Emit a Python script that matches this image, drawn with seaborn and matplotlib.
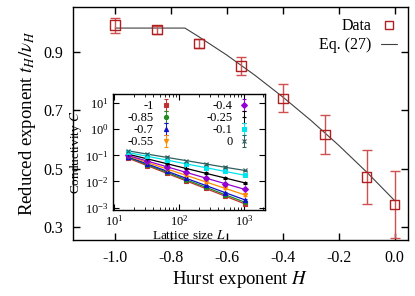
import numpy as np
import pandas as pd
import matplotlib
matplotlib.use("Agg")
import matplotlib.pyplot as plt
import seaborn as sns
from matplotlib.lines import Line2D

# ---------------- data ----------------
hurst = [-1.0, -0.85, -0.7, -0.55, -0.4, -0.25, -0.1, 0.0]
ratio = [0.993, 0.977, 0.931, 0.853, 0.742, 0.617, 0.472, 0.376]
ratio_err = [0.026, 0.013, 0.015, 0.030, 0.048, 0.068, 0.093, 0.115]

eq_h = [-1.0, -0.75, -0.7, -0.6, -0.5, -0.4, -0.3, -0.2, -0.1, 0.0]
eq_v = [0.983, 0.983, 0.953, 0.890, 0.821, 0.746, 0.666, 0.580, 0.488, 0.390]

lattice = [16, 32, 64, 128, 256, 512, 1024]
inset_labels = ["-1", "-0.85", "-0.7", "-0.55", "-0.4", "-0.25", "-0.1", "0"]
cond = {
    "-1":    [0.0794, 0.0406, 0.0207, 0.0106, 0.00541, 0.00277, 0.00141],
    "-0.85": [0.0851, 0.0440, 0.0227, 0.0117, 0.00607, 0.00314, 0.00162],
    "-0.7":  [0.0891, 0.0473, 0.0251, 0.0133, 0.00708, 0.00376, 0.00200],
    "-0.55": [0.0955, 0.0540, 0.0304, 0.0172, 0.00970, 0.00547, 0.00309],
    "-0.4":  [0.100, 0.0607, 0.0369, 0.0224, 0.0136, 0.00826, 0.00501],
    "-0.25": [0.112, 0.0736, 0.0483, 0.0316, 0.0207, 0.0136, 0.0089],
    "-0.1":  [0.129, 0.0923, 0.0661, 0.0473, 0.0339, 0.0243, 0.0174],
    "0":     [0.150, 0.112, 0.084, 0.063, 0.047, 0.035, 0.0266],
}
inset_colors = ["#c03030", "#228b22", "#1010d0", "#ff8c00", "#9400d3", "#000000", "#00e5ee", "#2f5f5f"]
inset_markers = ["s", "o", "^", "v", "D", "+", "s", "x"]

# ---------------- style ----------------
sns.set_style("ticks", {"axes.edgecolor": "black", "xtick.color": "black",
                        "ytick.color": "black", "text.color": "black",
                        "axes.labelcolor": "black"})
plt.rcParams["font.family"] = ["Liberation Serif", "DejaVu Serif"]
plt.rcParams["mathtext.fontset"] = "stix"
plt.rcParams["axes.unicode_minus"] = False

fig = plt.figure(figsize=(4.15, 2.96), dpi=100)
ax = fig.add_axes([0.176, 0.189, 0.807, 0.787])

df_eq = pd.DataFrame({"H": eq_h, "v": eq_v})
sns.lineplot(data=df_eq, x="H", y="v", ax=ax, color="#404040", lw=0.8, legend=False)

ax.errorbar(hurst, ratio, yerr=ratio_err, fmt="none", ecolor="#d05050",
            elinewidth=1.0, capsize=3.5, capthick=1.0, zorder=3)
df_d = pd.DataFrame({"H": hurst, "r": ratio})
sns.scatterplot(data=df_d, x="H", y="r", ax=ax, marker="s", s=45,
                facecolor="none", edgecolor="#b02020", linewidth=1.0, zorder=4)

ax.set_xlim(-1.15, 0.047)
ax.set_ylim(0.255, 1.055)
ax.set_xticks([-1.0, -0.8, -0.6, -0.4, -0.2, 0.0])
ax.set_xticklabels(["-1.0", "-0.8", "-0.6", "-0.4", "-0.2", "0.0"])
ax.set_yticks([0.3, 0.5, 0.7, 0.9])
ax.tick_params(direction="in", top=True, right=True, length=5, width=1.0,
               labelsize=11.5, pad=7)
for s in ax.spines.values():
    s.set_linewidth(1.0)
    s.set_color("black")
ax.set_xlabel("Hurst exponent $H$", fontsize=13.5, labelpad=2)
ax.set_ylabel(r"Reduced exponent $t_H/\nu_H$", fontsize=13.5, labelpad=4)

h_line = Line2D([], [], color="#404040", lw=0.8)
h_data = Line2D([], [], marker="s", mfc="none", mec="#b02020", ls="none", markersize=6)
ax.legend([h_data, h_line], ["Data", "Eq. (27)"], loc="upper right",
          frameon=False, markerfirst=False, fontsize=11.5, handlelength=1.0,
          handletextpad=0.6, borderaxespad=0.3, labelspacing=0.2)

# ---------------- inset ----------------
ax2 = fig.add_axes([0.272, 0.29, 0.366, 0.392])
rows = []
for lab in inset_labels:
    for L, c in zip(lattice, cond[lab]):
        rows.append({"L": L, "C": c, "H": lab})
df_in = pd.DataFrame(rows)
handles = []
for lab, col, mk in zip(inset_labels, inset_colors, inset_markers):
    sub = df_in[df_in["H"] == lab]
    sns.lineplot(data=sub, x="L", y="C", ax=ax2, color=col, lw=0.9, legend=False)
    e = ax2.errorbar(sub["L"], sub["C"], yerr=0.08 * sub["C"], fmt=mk, color=col,
                     markersize=3, mew=0.8, elinewidth=0.7, capsize=1.5, capthick=0.7)
    handles.append(e)
ax2.set_xscale("log")
ax2.set_yscale("log")
ax2.set_xlim(9.5, 2100)
ax2.set_ylim(8e-4, 22)
ax2.set_yticks([1e-3, 1e-2, 1e-1, 1e0, 1e1])
ax2.tick_params(which="both", direction="in", top=True, right=True, labelsize=9, pad=3)
ax2.tick_params(which="major", length=4)
ax2.tick_params(which="minor", length=2)
for s in ax2.spines.values():
    s.set_linewidth(1.0)
    s.set_color("black")
ax2.set_xlabel("Lattice size $L$", fontsize=9.5, labelpad=0)
ax2.set_ylabel("Conductivity $C$", fontsize=9.5, labelpad=1)
ax2.legend(handles, inset_labels, ncol=2, loc="upper center", frameon=False,
           markerfirst=False, fontsize=9, handlelength=0.9, handletextpad=0.5,
           columnspacing=2.8, labelspacing=0.0, borderaxespad=0.1)

fig.savefig("out.png", dpi=100)
